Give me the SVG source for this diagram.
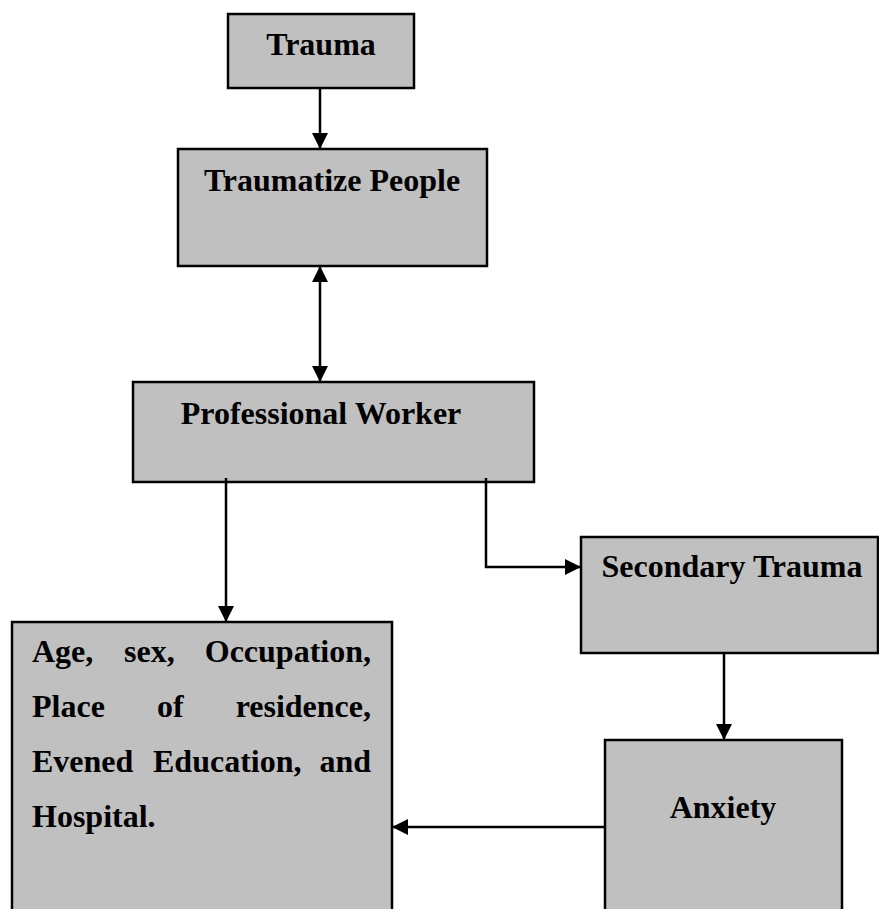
<svg xmlns="http://www.w3.org/2000/svg" width="879" height="909" viewBox="0 0 879 909">
<style>
.box{fill:#c0c0c0;stroke:#000;stroke-width:2.5}
.t{font-family:"Liberation Serif","Times New Roman",serif;font-weight:bold;font-size:32px;fill:#000}
.c{fill:none;stroke:#000;stroke-width:2.5}
</style>
<defs>
<marker id="ah" markerUnits="userSpaceOnUse" markerWidth="18" markerHeight="16" refX="16" refY="8" orient="auto-start-reverse" viewBox="0 0 18 16">
<path d="M0,0 L16,8 L0,16 Z" fill="#000"/>
</marker>
</defs>
<rect width="879" height="909" fill="#fff"/>
<g id="trauma">
<rect class="box" x="228" y="14" width="186" height="74"/>
<text class="t" x="321" y="55" text-anchor="middle">Trauma</text>
</g>
<g id="traumatize-people">
<rect class="box" x="178" y="149" width="309" height="117"/>
<text class="t" x="332" y="191" text-anchor="middle">Traumatize People</text>
</g>
<g id="professional-worker">
<rect class="box" x="133" y="382" width="401" height="100"/>
<text class="t" x="321" y="424" text-anchor="middle">Professional Worker</text>
</g>
<g id="secondary-trauma">
<rect class="box" x="581" y="537" width="297" height="116"/>
<text class="t" x="732" y="577" text-anchor="middle">Secondary Trauma</text>
</g>
<g id="factors">
<rect class="box" x="12" y="622" width="380" height="300"/>
<text class="t" y="662"><tspan x="32">Age,</tspan><tspan x="124">sex,</tspan><tspan x="371" text-anchor="end">Occupation,</tspan></text>
<text class="t" y="717"><tspan x="32">Place</tspan><tspan x="157">of</tspan><tspan x="371" text-anchor="end">residence,</tspan></text>
<text class="t" y="772"><tspan x="32">Evened</tspan><tspan x="153">Education,</tspan><tspan x="371" text-anchor="end">and</tspan></text>
<text class="t" x="32" y="827">Hospital.</text>
</g>
<g id="anxiety">
<rect class="box" x="605" y="740" width="237" height="200"/>
<text class="t" x="723" y="818" text-anchor="middle">Anxiety</text>
</g>
<g id="connectors">
<line class="c" x1="320" y1="88" x2="320" y2="149" marker-end="url(#ah)"/>
<line class="c" x1="320" y1="266" x2="320" y2="382" marker-start="url(#ah)" marker-end="url(#ah)"/>
<line class="c" x1="226" y1="478" x2="226" y2="622" marker-end="url(#ah)"/>
<polyline class="c" points="486,478 486,567 581,567" marker-end="url(#ah)"/>
<line class="c" x1="724" y1="652" x2="724" y2="740" marker-end="url(#ah)"/>
<line class="c" x1="605" y1="827" x2="392" y2="827" marker-end="url(#ah)"/>
</g>
</svg>
